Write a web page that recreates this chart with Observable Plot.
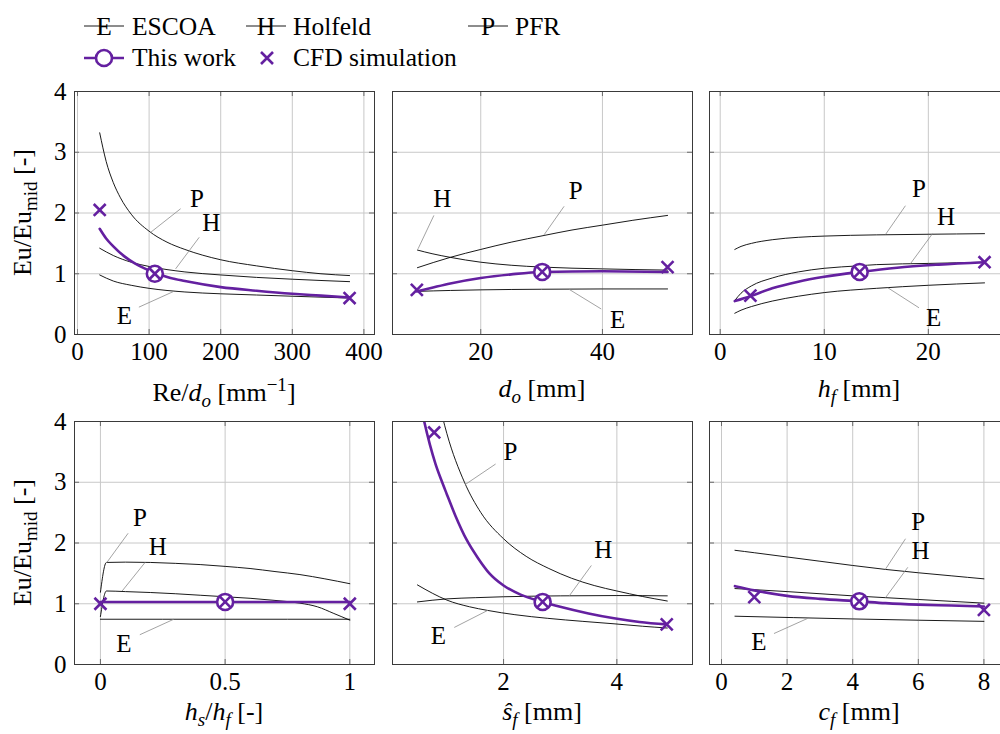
<!DOCTYPE html>
<html><head><meta charset="utf-8">
<script src="https://cdn.jsdelivr.net/npm/d3@7"></script>
<script src="https://cdn.jsdelivr.net/npm/@observablehq/plot@0.6"></script>
<style>
html,body{margin:0;padding:0;width:1000px;height:734px;overflow:hidden;background:#fff;}
#wrap{position:relative;width:1000px;height:734px;overflow:hidden;}
.pn{position:absolute;}
</style></head><body><div id="wrap"></div>
<script>
// ---------- data (x, Eu/Eu_mid) ----------
// Panel 1: Re/d_o
const p1_escoa = [[31,0.98],[50,0.88],[75,0.81],[100,0.76],[150,0.70],[200,0.67],[250,0.65],[300,0.63],[380,0.60]];
const p1_holfeld = [[31,1.42],[50,1.30],[75,1.19],[100,1.12],[150,1.03],[200,0.98],[250,0.94],[300,0.91],[380,0.87]];
const p1_pfr = [[31,3.32],[40,2.85],[50,2.50],[60,2.25],[75,1.98],[100,1.70],[125,1.52],[150,1.40],[200,1.23],[250,1.13],[300,1.05],[340,1.00],[380,0.97]];
const p1_work = [[31,1.74],[40,1.58],[50,1.45],[65,1.29],[80,1.17],[95,1.08],[108,1.02],[130,0.93],[150,0.88],[200,0.78],[250,0.72],[300,0.67],[340,0.64],[380,0.61]];
const p1_cfd = [[31,2.05],[108,1.0],[380,0.60]];
const p1_mid = [[108,1.0]];
// Panel 2: d_o
const p2_escoa = [[9.6,0.71],[15,0.725],[20,0.735],[30,0.745],[40,0.75],[50.7,0.75]];
const p2_holfeld = [[9.6,1.39],[12,1.33],[15,1.27],[20,1.19],[25,1.14],[30,1.11],[40,1.08],[50.7,1.06]];
const p2_pfr = [[9.6,1.10],[15,1.27],[20,1.40],[25,1.52],[30.4,1.63],[35,1.72],[40,1.80],[45,1.88],[50.7,1.96]];
const p2_work = [[9.5,0.71],[12,0.77],[15,0.84],[20,0.93],[25,0.99],[30.1,1.03],[40,1.04],[50.7,1.03]];
const p2_cfd = [[9.5,0.735],[30.1,1.03],[50.7,1.11]];
const p2_mid = [[30.1,1.03]];
// Panel 3: h_f
const p3_escoa = [[1.4,0.35],[2,0.40],[3,0.46],[5,0.55],[7.5,0.63],[10,0.69],[15,0.76],[20,0.81],[25.4,0.85]];
const p3_holfeld = [[1.4,0.56],[2,0.68],[3,0.80],[5,0.93],[7.5,1.03],[10,1.09],[13.3,1.13],[15,1.15],[20,1.17],[25.4,1.19]];
const p3_pfr = [[1.4,1.40],[2,1.45],[3,1.50],[5,1.56],[7.5,1.60],[10,1.62],[15,1.64],[20,1.65],[25.4,1.66]];
const p3_work = [[1.4,0.55],[2.9,0.63],[5,0.76],[7.5,0.87],[10,0.95],[13.4,1.03],[17,1.10],[21,1.15],[25.4,1.19]];
const p3_cfd = [[2.9,0.64],[13.4,1.03],[25.4,1.19]];
const p3_mid = [[13.4,1.03]];
// Panel 4: h_s/h_f
const p4_escoa = [[0,0.745],[0.5,0.745],[1,0.745]];
const p4_holfeld = [[0,0.79],[0.024,1.21],[0.1,1.20],[0.2,1.185],[0.3,1.165],[0.4,1.14],[0.5,1.115],[0.6,1.09],[0.7,1.055],[0.8,1.01],[0.87,0.95],[0.936,0.84],[1,0.73]];
const p4_pfr = [[0,1.19],[0.024,1.68],[0.1,1.685],[0.2,1.68],[0.3,1.665],[0.4,1.645],[0.5,1.615],[0.6,1.58],[0.7,1.53],[0.8,1.48],[0.9,1.41],[1,1.33]];
const p4_work = [[0,1.03],[0.5,1.03],[1,1.03]];
const p4_cfd = [[0,1.0],[0.5,1.03],[1,1.0]];
const p4_mid = [[0.5,1.03]];
// Panel 5: s_f
const p5_escoa = [[0.48,1.31],[0.75,1.17],[1.0,1.06],[1.4,0.95],[1.72,0.89],[2.2,0.82],[2.78,0.76],[3.4,0.71],[3.95,0.67],[4.45,0.63],[4.89,0.60]];
const p5_holfeld = [[0.48,1.03],[1.0,1.08],[1.5,1.10],[2,1.115],[3,1.13],[4,1.135],[4.89,1.13]];
const p5_pfr = [[0.85,4.35],[1.0,3.80],[1.31,3.0],[1.6,2.5],[2.0,2.07],[2.4,1.78],[2.8,1.58],[3.2,1.42],[3.6,1.30],[4.0,1.21],[4.45,1.12],[4.89,1.045]];
const p5_work = [[0.5,4.45],[0.6,4.0],[0.7,3.62],[0.8,3.3],[0.9,3.04],[1.0,2.8],[1.15,2.45],[1.35,2.05],[1.55,1.75],[1.75,1.5],[2.0,1.3],[2.3,1.15],[2.69,1.03],[3.0,0.95],[3.5,0.84],[3.95,0.76],[4.4,0.70],[4.88,0.66]];
const p5_cfd = [[0.776,3.82],[2.69,1.03],[4.88,0.66]];
const p5_mid = [[2.69,1.03]];
// Panel 6: c_f
const p6_escoa = [[0.41,0.795],[4,0.75],[8,0.71]];
const p6_holfeld = [[0.41,1.25],[2,1.20],[4,1.13],[6,1.07],[8,1.01]];
const p6_pfr = [[0.41,1.88],[1,1.84],[2,1.77],[3,1.70],[4,1.63],[5,1.565],[6,1.51],[7,1.46],[8,1.41]];
const p6_work = [[0.41,1.29],[1,1.22],[2,1.13],[3,1.08],[4.2,1.04],[5,1.01],[6,0.985],[7,0.97],[8,0.955]];
const p6_cfd = [[1.0,1.11],[4.2,1.04],[8,0.90]];
const p6_mid = [[4.2,1.04]];

// curve labels: text t at (x,y), leader from (x1,y1) to (x2,y2)
const p1_labels = [
  {t:"P", x:167, y:2.23, x1:144, y1:2.07, x2:102, y2:1.68},
  {t:"H", x:187, y:1.83, x1:170, y1:1.60, x2:137, y2:1.08},
  {t:"E", x:65.6, y:0.31, x1:85.7, y1:0.45, x2:134.5, y2:0.71}];
const p2_labels = [
  {t:"H", x:13.7, y:2.23, x1:12.3, y1:1.96, x2:9.7, y2:1.41},
  {t:"P", x:35.6, y:2.37, x1:33.7, y1:2.11, x2:30.4, y2:1.64},
  {t:"E", x:42.5, y:0.24, x1:39.8, y1:0.42, x2:34.5, y2:0.745}];
const p3_labels = [
  {t:"P", x:19.1, y:2.40, x1:17.8, y1:2.12, x2:15.9, y2:1.65},
  {t:"H", x:21.7, y:1.93, x1:20.4, y1:1.66, x2:18.3, y2:1.17},
  {t:"E", x:20.5, y:0.27, x1:19.1, y1:0.44, x2:16.1, y2:0.77}];
const p4_labels = [
  {t:"P", x:0.158, y:2.41, x1:0.111, y1:2.16, x2:0.024, y2:1.67},
  {t:"H", x:0.23, y:1.93, x1:0.18, y1:1.685, x2:0.087, y2:1.21},
  {t:"E", x:0.094, y:0.345, x1:0.158, y1:0.49, x2:0.294, y2:0.745}];
const p5_labels = [
  {t:"P", x:2.12, y:3.49, x1:1.86, y1:3.30, x2:1.32, y2:2.96},
  {t:"H", x:3.76, y:1.88, x1:3.55, y1:1.63, x2:3.16, y2:1.13},
  {t:"E", x:0.85, y:0.465, x1:1.13, y1:0.61, x2:1.72, y2:0.89}];
const p6_labels = [
  {t:"P", x:6.0, y:2.34, x1:5.61, y1:2.07, x2:5.0, y2:1.57},
  {t:"H", x:6.07, y:1.87, x1:5.68, y1:1.60, x2:5.0, y2:1.10},
  {t:"E", x:1.14, y:0.37, x1:1.6, y1:0.51, x2:2.63, y2:0.76}];

const yTicks = [0, 1, 2, 3, 4];
const xTicks1 = [0, 100, 200, 300, 400];
const xTicks2 = [20, 40];
const xTicks3 = [0, 10, 20];
const xTicks4 = [0, 0.5, 1];
const xTicks5 = [2, 4];
const xTicks6 = [0, 2, 4, 6, 8];

const legendNames = ["ESCOA", "Holfeld", "PFR", "This work", "CFD simulation"];
const legendLetters = ["E", "H", "P"];

// ---------- drawing ----------
const PURPLE = "#6420a0";
const FONT = "'Liberation Serif', 'DejaVu Serif', serif";
const wrap = document.getElementById("wrap");
const pts = a => a.map(([x, y]) => ({x, y}));

function addText(svg, parts, x, y, opts = {}) {
  const t = d3.select(svg).append("text")
    .attr("x", x).attr("y", y)
    .attr("text-anchor", "middle")
    .attr("font-family", FONT).attr("font-size", 26).attr("fill", "black");
  if (opts.rotate) t.attr("transform", `rotate(-90 ${x} ${y})`);
  let shift = 0;
  for (const p of parts) {
    const s = t.append("tspan").text(p.t);
    let target = p.sub ? 6 : p.sup ? -10 : 0;
    if (target !== shift) { s.attr("dy", target - shift); shift = target; }
    if (p.sub || p.sup) s.attr("font-size", 19);
    if (p.i) s.attr("font-style", "italic");
  }
}

function panel(cfg) {
  const {left, top, w, h, ml, mr, mt, mb, xdom, xticks, showY, E, H, P, W, C, M, labels, xlabel, lab} = cfg;
  const span = xdom[1] - xdom[0];
  const dx = span * 5 / (w - ml - mr);
  const dy = 4 * 5 / (h - mt - mb);
  const grid = {stroke: "#c8c8c8", strokeOpacity: 1, strokeWidth: 1};
  const tk = {stroke: "#6a6a6a", strokeWidth: 1};
  const svg = Plot.plot({
    width: w, height: h,
    marginLeft: ml, marginRight: mr, marginTop: mt, marginBottom: mb,
    x: {domain: xdom, axis: null},
    y: {domain: [0, 4], axis: null},
    style: {fontFamily: FONT, fontSize: "25px", background: "transparent", overflow: "visible", color: "black"},
    marks: [
      Plot.gridX(xticks, grid),
      Plot.gridY([1, 2, 3], grid),
      Plot.ruleX(xticks, {y1: 0, y2: dy, ...tk}),
      Plot.ruleX(xticks, {y1: 4 - dy, y2: 4, ...tk}),
      Plot.ruleY([1, 2, 3], {x1: xdom[0], x2: xdom[0] + dx, ...tk}),
      Plot.ruleY([1, 2, 3], {x1: xdom[1] - dx, x2: xdom[1], ...tk}),
      Plot.axisX(xticks, {tickSize: 0, tickPadding: 8, label: null, tickFormat: d => String(d), fontSize: 25}),
      showY ? Plot.axisY(yTicks, {tickSize: 0, tickPadding: 8, label: null, tickFormat: d => String(d), fontSize: 25}) : null,
      Plot.line(pts(E), {x: "x", y: "y", stroke: "black", strokeWidth: 0.9, curve: "monotone-x", clip: true}),
      Plot.line(pts(H), {x: "x", y: "y", stroke: "black", strokeWidth: 0.9, curve: "monotone-x", clip: true}),
      Plot.line(pts(P), {x: "x", y: "y", stroke: "black", strokeWidth: 0.9, curve: "monotone-x", clip: true}),
      Plot.link(labels, {x1: "x1", y1: "y1", x2: "x2", y2: "y2", stroke: "#8c8c8c", strokeWidth: 0.8}),
      Plot.text(labels, {x: "x", y: "y", text: "t", fontSize: 25, fill: "black"}),
      Plot.line(pts(W), {x: "x", y: "y", stroke: PURPLE, strokeWidth: 2.6, curve: "monotone-x", clip: true}),
      Plot.dot(pts(M), {x: "x", y: "y", r: 8, stroke: PURPLE, strokeWidth: 2.6, fill: "white"}),
      Plot.dot(pts(C), {x: "x", y: "y", symbol: "times", r: 5.5, stroke: PURPLE, strokeWidth: 2.6}),
      Plot.frame({stroke: "#3a3a3a", strokeWidth: 1})
    ]
  });
  const fb = h - mb;
  addText(svg, xlabel, ml + (w - ml - mr) / 2, fb + lab);
  if (showY) addText(svg, [{t: "Eu/Eu"}, {t: "mid", sub: true}, {t: " [-]"}], 31, mt + (h - mt - mb) / 2, {rotate: true});
  svg.classList.add("pn");
  svg.style.left = left + "px";
  svg.style.top = top + "px";
  wrap.appendChild(svg);
}

const TOP = {top: 80, h: 326, mt: 11, mb: 72};
const BOT = {top: 410, h: 324, mt: 11, mb: 70};
const COL = [
  {left: 0, w: 380, ml: 74, mr: 6},
  {left: 380, w: 320, ml: 12, mr: 8},
  {left: 700, w: 310, ml: 9, mr: 1}
];

panel({...TOP, ...COL[0], showY: true, lab: 67, xdom: [-4.2, 414.8], xticks: xTicks1,
  E: p1_escoa, H: p1_holfeld, P: p1_pfr, W: p1_work, C: p1_cfd, M: p1_mid, labels: p1_labels,
  xlabel: [{t: "Re/"}, {t: "d", i: true}, {t: "o", i: true, sub: true}, {t: " [mm"}, {t: "\u22121", sup: true}, {t: "]"}]});
panel({...TOP, ...COL[1], showY: false, lab: 63, xdom: [5.5, 54.8], xticks: xTicks2,
  E: p2_escoa, H: p2_holfeld, P: p2_pfr, W: p2_work, C: p2_cfd, M: p2_mid, labels: p2_labels,
  xlabel: [{t: "d", i: true}, {t: "o", i: true, sub: true}, {t: " [mm]"}]});
panel({...TOP, ...COL[2], showY: false, lab: 63, xdom: [-1.03, 27.8], xticks: xTicks3,
  E: p3_escoa, H: p3_holfeld, P: p3_pfr, W: p3_work, C: p3_cfd, M: p3_mid, labels: p3_labels,
  xlabel: [{t: "h", i: true}, {t: "f", i: true, sub: true}, {t: " [mm]"}]});
panel({...BOT, ...COL[0], showY: true, lab: 56, xdom: [-0.104, 1.099], xticks: xTicks4,
  E: p4_escoa, H: p4_holfeld, P: p4_pfr, W: p4_work, C: p4_cfd, M: p4_mid, labels: p4_labels,
  xlabel: [{t: "h", i: true}, {t: "s", i: true, sub: true}, {t: "/"}, {t: "h", i: true}, {t: "f", i: true, sub: true}, {t: " [-]"}]});
panel({...BOT, ...COL[1], showY: false, lab: 56, xdom: [0.04, 5.335], xticks: xTicks5,
  E: p5_escoa, H: p5_holfeld, P: p5_pfr, W: p5_work, C: p5_cfd, M: p5_mid, labels: p5_labels,
  xlabel: [{t: "\u015D", i: true}, {t: "f", i: true, sub: true}, {t: " [mm]"}]});
panel({...BOT, ...COL[2], showY: false, lab: 56, xdom: [-0.366, 8.78], xticks: xTicks6,
  E: p6_escoa, H: p6_holfeld, P: p6_pfr, W: p6_work, C: p6_cfd, M: p6_mid, labels: p6_labels,
  xlabel: [{t: "c", i: true}, {t: "f", i: true, sub: true}, {t: " [mm]"}]});

// ---------- legend ----------
(function legend() {
  const svg = d3.select(wrap).append("svg").attr("class", "pn")
    .attr("width", 600).attr("height", 78).style("left", "0px").style("top", "0px");
  const g = svg.append("g").attr("font-family", FONT).attr("font-size", 25.5);
  const row1 = [{sx: 84, tx: 132}, {sx: 246, tx: 293}, {sx: 468, tx: 515}];
  row1.forEach((r, i) => {
    g.append("line").attr("x1", r.sx).attr("x2", r.sx + 40).attr("y1", 26).attr("y2", 26)
      .attr("stroke", "black").attr("stroke-width", 0.9);
    g.append("text").attr("x", r.sx + 20).attr("y", 34.5).attr("text-anchor", "middle").text(legendLetters[i]);
    g.append("text").attr("x", r.tx).attr("y", 34.5).text(legendNames[i]);
  });
  g.append("line").attr("x1", 84).attr("x2", 124).attr("y1", 58).attr("y2", 58)
    .attr("stroke", PURPLE).attr("stroke-width", 2.6);
  g.append("circle").attr("cx", 104).attr("cy", 58).attr("r", 8)
    .attr("fill", "white").attr("stroke", PURPLE).attr("stroke-width", 2.6);
  g.append("text").attr("x", 132).attr("y", 66).text(legendNames[3]);
  g.append("path").attr("d", "M261,52L273,64M261,64L273,52").attr("stroke", PURPLE).attr("stroke-width", 2.6);
  g.append("text").attr("x", 293).attr("y", 66).text(legendNames[4]);
})();
</script></body></html>
